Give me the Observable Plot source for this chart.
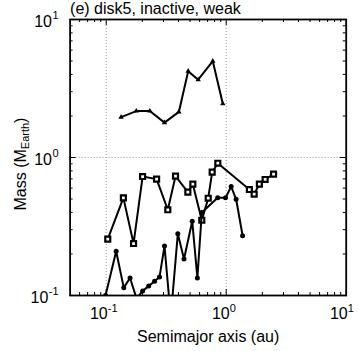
<!DOCTYPE html>
<html><head><meta charset="utf-8">
<script src="https://cdn.jsdelivr.net/npm/d3@7"></script>
<script src="https://cdn.jsdelivr.net/npm/@observablehq/plot@0.6"></script>
<style>body{margin:0;background:#fff}</style>
</head><body><div id="chart"></div>
<script>
// Data (semimajor axis in au, mass in Earth masses)
const triA = [0.133,0.178,0.231,0.306,0.403,0.482,0.584,0.773,0.937];
const triM = [1.96,2.17,2.17,1.79,2.14,4.22,3.66,4.99,2.45];
const sqA = [0.103,0.139,0.169,0.201,0.263,0.326,0.378,0.479,0.527,0.626,0.708,0.764,0.851,1.56,1.71,1.89,2.11,2.48];
const sqM = [0.256,0.510,0.238,0.728,0.697,0.418,0.732,0.561,0.641,0.351,0.507,0.783,0.909,0.586,0.542,0.641,0.693,0.757];
const cirA = [0.0987,0.121,0.140,0.158,0.179,0.201,0.226,0.253,0.278,0.306,0.345,0.395,0.445,0.521,0.575,0.626,0.849,0.987,1.10,1.21,1.37];
const cirM = [0.100,0.209,0.114,0.134,0.095,0.108,0.117,0.127,0.136,0.228,0.070,0.280,0.184,0.345,0.134,0.399,0.510,0.510,0.616,0.498,0.271];

const xMajor = [0.1, 1, 10];
const xExp = ["-1", "0", "1"];
const xMinor = [0.06,0.07,0.08,0.09,0.2,0.3,0.4,0.5,0.6,0.7,0.8,0.9,2,3,4,5,6,7,8,9];
const yMajor = [0.1, 1, 10];
const yExp = ["-1", "0", "1"];
const yMinor = [0.2,0.3,0.4,0.5,0.6,0.7,0.8,0.9,2,3,4,5,6,7,8,9];
const xGrid = [0.1, 1];
const yGrid = [1];

const titleText = "(e) disk5, inactive, weak";
const xLabel = "Semimajor axis (au)";
const yLabelParts = ["Mass (M", "Earth", ")"];

const W = 359, H = 351, mL = 69.6, mR = 13.3, mT = 19, mB = 56;
const iW = W - mL - mR, iH = H - mT - mB;
const font = "'Liberation Sans', Arial, Helvetica, sans-serif";
const pts = (A, M) => A.map((a, i) => ({a, m: M[i]}));
const tri = pts(triA, triM), sq = pts(sqA, sqM), cir = pts(cirA, cirM);

const fs = 16, fsSup = 11;
const xBaseDx = [1.5, 3.5, 1.5];
const yExpW = [9.8, 6.1, 6.1];

const tickMarks = [
  Plot.tickX(xMinor, {x: d => d, insetTop: iH - 3, stroke: "black"}),
  Plot.tickX(xMinor, {x: d => d, insetBottom: iH - 3, stroke: "black"}),
  Plot.tickX(xMajor, {x: d => d, insetTop: iH - 6, stroke: "black"}),
  Plot.tickX(xMajor, {x: d => d, insetBottom: iH - 6, stroke: "black"}),
  Plot.tickY(yMinor, {y: d => d, insetRight: iW - 3, stroke: "black"}),
  Plot.tickY(yMinor, {y: d => d, insetLeft: iW - 3, stroke: "black"}),
  Plot.tickY(yMajor, {y: d => d, insetRight: iW - 6, stroke: "black"}),
  Plot.tickY(yMajor, {y: d => d, insetLeft: iW - 6, stroke: "black"})
];

const xLabels = xMajor.flatMap((v, i) => [
  Plot.text([v], {x: d => d, text: () => "10", frameAnchor: "bottom", textAnchor: "end", lineAnchor: "bottom", dx: xBaseDx[i], dy: 23.5, fontSize: fs, fill: "black"}),
  Plot.text([v], {x: d => d, text: () => xExp[i], frameAnchor: "bottom", textAnchor: "start", lineAnchor: "bottom", dx: xBaseDx[i], dy: 16, fontSize: fsSup, fill: "black"})
]);
const yLabels = yMajor.flatMap((v, i) => [
  Plot.text([v], {y: d => d, text: () => "10", frameAnchor: "left", textAnchor: "end", lineAnchor: "bottom", dx: -11.5 - yExpW[i] - 0.5, dy: 7.5, fontSize: fs, fill: "black"}),
  Plot.text([v], {y: d => d, text: () => yExp[i], frameAnchor: "left", textAnchor: "end", lineAnchor: "bottom", dx: -11.5, dy: -0.5, fontSize: fsSup, fill: "black"})
]);

const w1 = 3.833 * fs, w2 = 2.39 * fsSup;
const yStart = 53;
const axisTitles = [
  Plot.text([titleText], {frameAnchor: "top-left", textAnchor: "start", lineAnchor: "bottom", dy: -6, fontSize: fs, fill: "black"}),
  Plot.text([xLabel], {frameAnchor: "bottom", textAnchor: "middle", lineAnchor: "bottom", dy: 46, fontSize: fs, fill: "black"}),
  Plot.text([yLabelParts[0]], {frameAnchor: "left", textAnchor: "start", lineAnchor: "bottom", rotate: -90, dx: -44.6, dy: yStart, fontSize: fs, fill: "black"}),
  Plot.text([yLabelParts[1]], {frameAnchor: "left", textAnchor: "start", lineAnchor: "bottom", rotate: -90, dx: -41, dy: yStart - w1, fontSize: fsSup, fill: "black"}),
  Plot.text([yLabelParts[2]], {frameAnchor: "left", textAnchor: "start", lineAnchor: "bottom", rotate: -90, dx: -44.6, dy: yStart - w1 - w2, fontSize: fs, fill: "black"})
];

const chart = Plot.plot({
  width: W, height: H,
  marginLeft: mL, marginRight: mR, marginTop: mT, marginBottom: mB,
  style: {fontFamily: font, background: "white", overflow: "visible"},
  x: {type: "log", domain: [0.05, 10], axis: null},
  y: {type: "log", domain: [0.1, 10], axis: null},
  marks: [
    Plot.ruleX(xGrid, {x: d => d, stroke: "#999", strokeDasharray: "1,2", strokeWidth: 1}),
    Plot.ruleY(yGrid, {y: d => d, stroke: "#999", strokeDasharray: "1,2", strokeWidth: 1}),
    Plot.line(tri, {x: "a", y: "m", stroke: "black", strokeWidth: 2, clip: true}),
    Plot.dot(tri, {x: "a", y: "m", symbol: "triangle", r: 2, fill: "black", clip: true}),
    Plot.line(sq, {x: "a", y: "m", stroke: "black", strokeWidth: 2, clip: true}),
    Plot.dot(sq, {x: "a", y: "m", symbol: "square", r: 2.8, fill: "white", stroke: "black", strokeWidth: 2.2, clip: true}),
    Plot.line(cir, {x: "a", y: "m", stroke: "black", strokeWidth: 2, clip: true}),
    Plot.dot(cir, {x: "a", y: "m", r: 2.5, fill: "black", clip: true}),
    ...tickMarks,
    Plot.frame({stroke: "black", strokeWidth: 1.8}),
    ...xLabels, ...yLabels, ...axisTitles
  ]
});
document.getElementById("chart").appendChild(chart);
</script>
</body></html>
